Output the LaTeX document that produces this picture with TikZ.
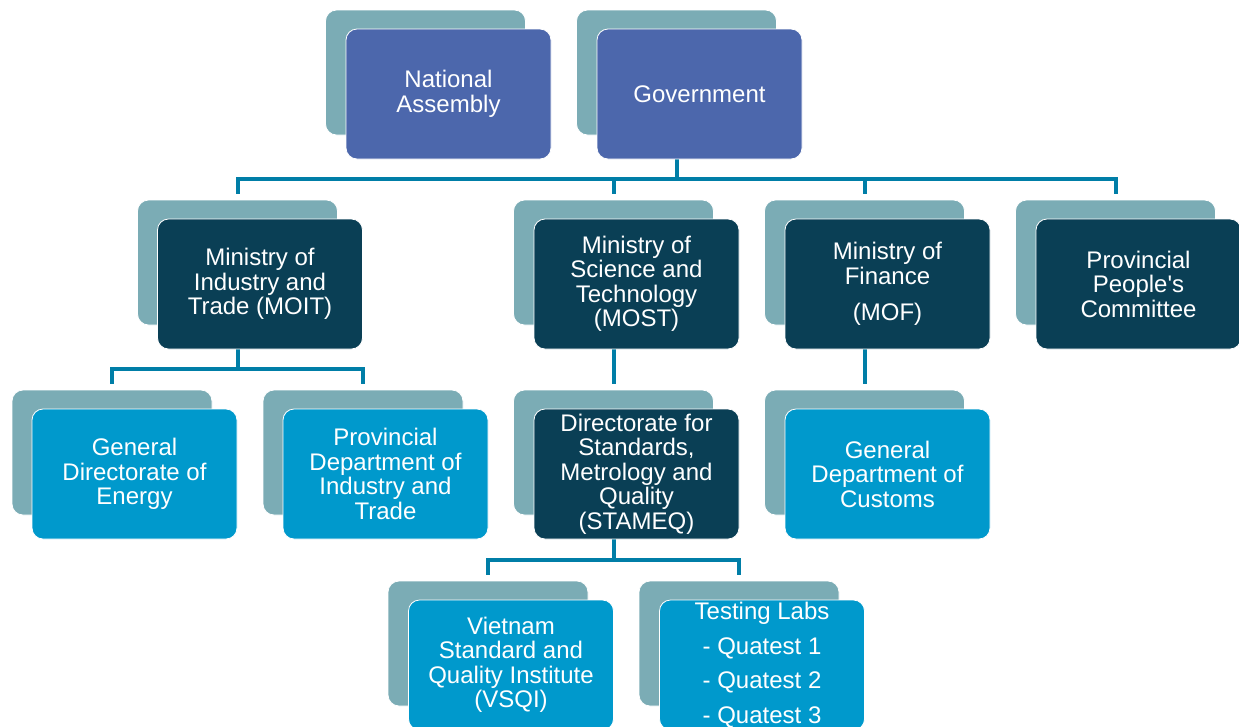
\documentclass[tikz,border=0pt]{standalone}
\usepackage{fontspec}
\setmainfont{Liberation Sans}
\usetikzlibrary{backgrounds}
\definecolor{shadowteal}{RGB}{123,172,181}
\definecolor{topblue}{RGB}{76,103,172}
\definecolor{deepblue}{RGB}{10,63,85}
\definecolor{skyblue}{RGB}{0,153,204}
\definecolor{linkblue}{RGB}{0,126,167}

\begin{document}
\begin{tikzpicture}[x=1pt,y=-1pt]
        \tikzstyle{back}=[fill=shadowteal,draw=white,line width=0.8pt,rounded corners=11pt,minimum width=200pt,minimum height=125pt,inner sep=0pt]
        \tikzstyle{front}=[draw=white,line width=0.8pt,rounded corners=11pt,minimum width=205pt,minimum height=130pt,inner sep=0pt,align=center,text=white,font=\fontsize{24}{24.5}\selectfont]
        \tikzstyle{link}=[draw=linkblue,line width=4pt,shorten >=6pt]

        \useasboundingbox (0,0) rectangle (1239,726);

        % top level
        \draw node at (425.5, 72.5) [back] (na-bk) {};
        \draw node at (448.5, 94) [front,fill=topblue] (na) {National\\Assembly};
        \draw node at (676.5, 72.5) [back] (gov-bk) {};
        \draw node at (699.5, 94) [front,fill=topblue] (gov) {Government};

        % ministries
        \draw node at (237.5, 262.5) [back] (moit-bk) {};
        \draw node at (260, 284) [front,fill=deepblue] (moit) {Ministry of\\Industry and\\Trade (MOIT)};
        \draw node at (613.5, 262.5) [back] (most-bk) {};
        \draw node at (636.5, 284) [front,fill=deepblue] (most) {Ministry of\\Science and\\Technology\\(MOST)};
        \draw node at (864.5, 262.5) [back] (mof-bk) {};
        \draw node at (887.5, 284) [front,fill=deepblue] (mof) {Ministry of\\Finance\\[12pt](MOF)};
        \draw node at (1115.5, 262.5) [back] (ppc-bk) {};
        \draw node at (1138.5, 284) [front,fill=deepblue] (ppc) {Provincial\\People\textquotesingle s\\Committee};

        % agencies
        \draw node at (112, 452.5) [back] (gde-bk) {};
        \draw node at (134.5, 474) [front,fill=skyblue] (gde) {General\\Directorate of\\Energy};
        \draw node at (363, 452.5) [back] (pdit-bk) {};
        \draw node at (385.5, 474) [front,fill=skyblue] (pdit) {Provincial\\Department of\\Industry and\\Trade};
        \draw node at (613.5, 452.5) [back] (stameq-bk) {};
        \draw node at (636.5, 474) [front,fill=deepblue] (stameq) {Directorate for\\Standards,\\Metrology and\\Quality\\(STAMEQ)};
        \draw node at (864.5, 452.5) [back] (gdc-bk) {};
        \draw node at (887.5, 474) [front,fill=skyblue] (gdc) {General\\Department of\\Customs};

        % institutes and labs
        \draw node at (488, 643.5) [back] (vsqi-bk) {};
        \draw node at (511, 665) [front,fill=skyblue] (vsqi) {Vietnam\\Standard and\\Quality Institute\\(VSQI)};
        \draw node at (739, 643.5) [back] (labs-bk) {};
        \draw node at (762, 665) [front,fill=skyblue] (labs) {Testing Labs\\[10pt]- Quatest 1\\[10pt]- Quatest 2\\[10pt]- Quatest 3};

        \begin{scope}[on background layer]
        \draw [link] (gov-bk.south) -- ++(0,44) -| (moit-bk.north);
        \draw [link] (gov-bk.south) -- ++(0,44) -| (most-bk.north);
        \draw [link] (gov-bk.south) -- ++(0,44) -| (mof-bk.north);
        \draw [link] (gov-bk.south) -- ++(0,44) -| (ppc-bk.north);
        \draw [link] (moit-bk.south) -- ++(0,44) -| (gde-bk.north);
        \draw [link] (moit-bk.south) -- ++(0,44) -| (pdit-bk.north);
        \draw [link] (most-bk.south) -- (stameq-bk.north);
        \draw [link] (mof-bk.south) -- (gdc-bk.north);
        \draw [link] (stameq-bk.south) -- ++(0,45) -| (vsqi-bk.north);
        \draw [link] (stameq-bk.south) -- ++(0,45) -| (labs-bk.north);
        \end{scope}
    \end{tikzpicture}
\end{document}
